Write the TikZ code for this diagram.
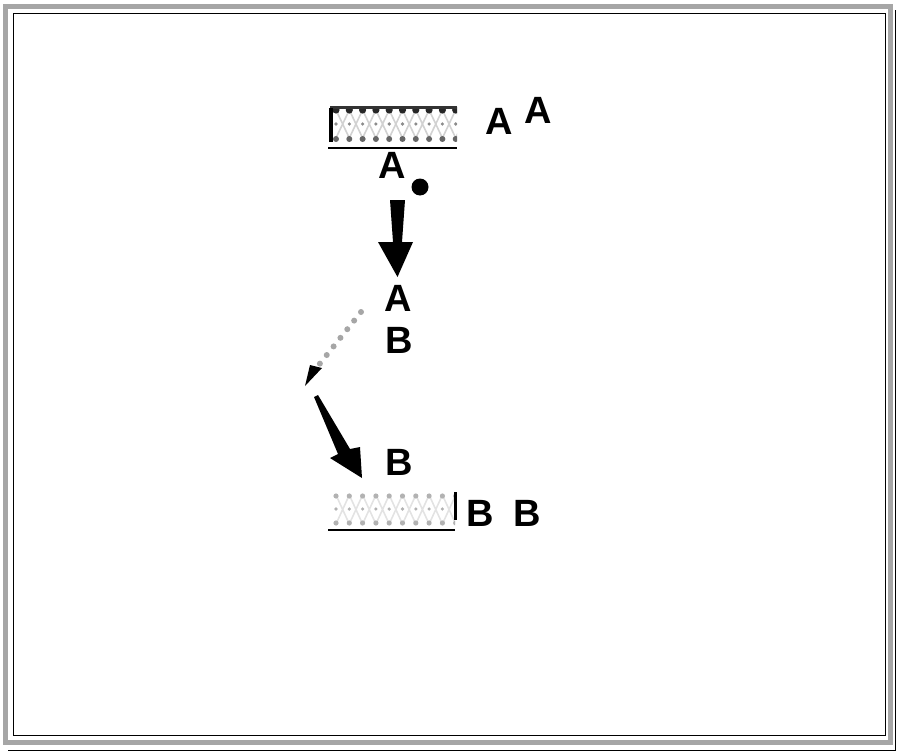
\documentclass[tikz,border=0pt]{standalone}
\usepackage{fontspec}
\setmainfont{Liberation Sans}
\usetikzlibrary{arrows.meta}
\begin{document}
\begin{tikzpicture}[x=1pt,y=-1pt,
  lbl/.style={inner sep=0pt,font=\fontsize{38}{40}\selectfont\bfseries},
  rule/.style={line width=1.2pt}]
\useasboundingbox (0,0) rectangle (900,752);
% frame
\draw[line width=5pt,gray!70] (5.5,7) rectangle (890.5,742);
\draw[line width=1pt] (13,14) rectangle (885,735);
\draw[line width=1pt] (8,750) -- (895,750) -- (895,10);
% top box
\begin{scope}
\clip (330,106) rectangle (457,143);
\foreach \i in {0,...,9} {
  \pgfmathsetmacro{\xx}{336+13.3*\i}
  \draw[gray!35,line width=1.6pt] (\xx,110) -- (\xx+13.3,138) (\xx+13.3,110) -- (\xx,138);
  \fill[black!85] (\xx,110) circle (3.6pt);
  \fill[black!60] (\xx,139) circle (3pt);
  \fill[black!45] (\xx,124) circle (1.8pt);
}
\fill[black!80] (330,106) rectangle (457,109);
\end{scope}
\draw[line width=4pt] (331,142) -- (331,108);
\draw[rule] (328,148) -- (457,148);
\node[lbl] (a1) at (499,121) {A};
\node[lbl] (a2) at (538,110) {A};
\node[lbl] (ae) at (392,165) {A};
\node[circle,fill=black,minimum size=17pt,inner sep=0pt] (e) at (420,187) {};
% middle labels
\node[lbl] (a3) at (398,298) {A};
\node[lbl] (b1) at (399,340) {B};
\node[lbl] (b2) at (399,462) {B};
% arrow 1
\fill (390,200) -- (405,200) -- (402,242) -- (413,242) -- (397.5,277) -- (378,242) -- (393,242) -- cycle;
% dotted arrow
\coordinate (bend) at (305,385);
\draw[gray!70,line width=6pt,dash pattern=on 0pt off 11pt,line cap=round] (361,312) -- (318,366);
\fill (322,368) -- (305,386) -- (310,365) -- cycle;
% thick arrow
\coordinate (s) at (316,396);
\fill (314,397) -- (318,395) -- (350,449) -- (360,447) -- (362,478) -- (330,458) -- (338,454) -- cycle;
% bottom box
\begin{scope}
\clip (330,491) rectangle (455,528);
\foreach \i in {0,...,9} {
  \pgfmathsetmacro{\xx}{336+13.3*\i}
  \draw[gray!22,line width=1.6pt] (\xx,495) -- (\xx+13.3,524) (\xx+13.3,495) -- (\xx,524);
  \fill[black!30] (\xx,496) circle (2.6pt);
  \fill[black!30] (\xx,523) circle (2.6pt);
  \fill[black!30] (\xx,509) circle (1.8pt);
}
\end{scope}
\draw[line width=3pt] (455,492) -- (455,520);
\draw[rule] (328,530) -- (455,530);
\node[lbl] (b3) at (480,513) {B};
\node[lbl] (b4) at (527,513) {B};
\end{tikzpicture}
\end{document}
